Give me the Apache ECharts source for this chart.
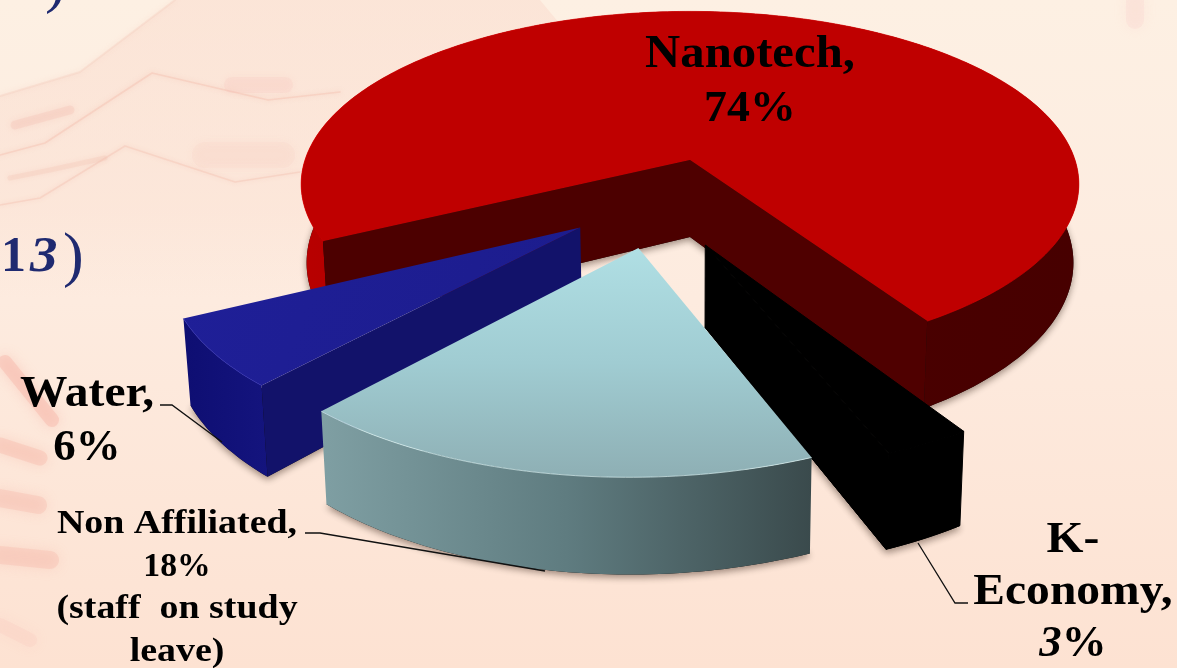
<!DOCTYPE html>
<html><head><meta charset="utf-8">
<style>html,body{margin:0;padding:0;background:#fde8d8}#c{width:1177px;height:668px}</style>
<script src="https://cdn.jsdelivr.net/npm/echarts@6/dist/echarts.min.js"></script>
</head><body><div id="c"></div>
<script>
// ---- data ----
const categories = ['Nanotech', 'K-Economy', 'Non Affiliated', 'Water'];
const seriesValues = [74, 3, 18, 6];
const labelTemplates = ['Nanotech,\n{v}%', 'K-\nEconomy,\n{v}%', 'Non Affiliated,\n{v}%\n(staff  on study\nleave)', 'Water,\n{v}%'];
const drawOrder = [0, 1, 3, 2];

// ---- view (projection of the tilted disc) ----
const view = {cx: 690, cy: 160, R: 385, tilt: 0.44, persp: 0.14, h: 77, shrink: 0.014, start: 153.3};
const explode = [[0, 0], [0.037, 0.469], [-0.125, 0.484], [-0.27, 0.378]];
const grad = (x0, y0, x1, y1, stops) => new echarts.graphic.LinearGradient(x0, y0, x1, y1, stops.map((c, i) => Array.isArray(c) ? {offset: c[0], color: c[1]} : {offset: i / (stops.length - 1), color: c}));
const looks = [
  {top: '#bf0000', faceA: '#4f0000', faceB: '#4c0000', edge: '#d80000',
   wall: grad(0, 0, 1, 0, [[0, '#b80000'], [0.055, '#b40000'], [0.07, '#4f0000'], [1, '#470000']])},
  {top: '#000000', faceA: '#000000', faceB: '#000000', edge: '#000000', wall: '#000000', seam: '#000000'},
  {top: grad(0, 0, 0, 1, ['#b0dfe4', '#a0ccd2', '#8eafb4']), faceA: '#3c4c4e', faceB: '#7f9ea2', edge: '#d9f2f4',
   wall: grad(0, 0, 1, 0, ['#7f9fa3', '#5f7c80', '#3a4a4c'])},
  {top: grad(0, 0, 1, 1, ['#1f1f98', '#1c1c8c']), faceA: '#12125a', faceB: '#12126a', edge: '#2a2ab0',
   wall: grad(0, 0, 1, 0, ['#0e0e72', '#14147e'])}
];

function project(X, Y, down) {
  const s = 1 / (1 - view.persp * Y);
  let x = view.cx + view.R * X * s, y = view.cy + view.R * view.tilt * Y * s;
  if (down) { x = view.cx + (x - view.cx) * (1 - view.shrink); y += view.h * s; }
  return [x, y];
}
const total = seriesValues.reduce((a, b) => a + b, 0);
const angles = [];
seriesValues.reduce((acc, v, i) => { const a = acc + v / total * 360; angles[i] = [acc, a]; return a; }, view.start);

function arcPts(i, down) {
  const [a0, a1] = angles[i], [ex, ey] = explode[i], n = Math.ceil(a1 - a0), pts = [];
  for (let k = 0; k <= n; k++) {
    const t = (a0 + (a1 - a0) * k / n) * Math.PI / 180;
    pts.push(project(Math.cos(t) + ex, Math.sin(t) + ey, down));
  }
  return pts;
}
const shadow = {shadowColor: 'rgba(60,40,30,0.55)', shadowBlur: 7, shadowOffsetY: 3};

function renderItem(params, api) {
  const i = api.value(1), look = looks[i], [a0, a1] = angles[i], [ex, ey] = explode[i];
  const topArc = arcPts(i, false), botArc = arcPts(i, true);
  const apex = project(ex, ey, false), apexB = project(ex, ey, true);
  const children = [];
  const poly = (points, style) => children.push({type: 'polygon', shape: {points}, style: look.seam ? Object.assign({stroke: look.seam, lineWidth: 1}, style) : style});
  poly(botArc.concat([apexB]), Object.assign({fill: '#000', opacity: 0.9}, shadow));
  poly(topArc.concat(botArc.slice().reverse()), {fill: look.wall});
  const ra0 = a0 * Math.PI / 180, ra1 = a1 * Math.PI / 180;
  if (-Math.cos(ra0) > 0) poly([apex, topArc[0], botArc[0], apexB], {fill: look.faceB});
  if (Math.cos(ra1) > 0) poly([apex, topArc[topArc.length - 1], botArc[botArc.length - 1], apexB], {fill: look.faceA});
  poly([apex].concat(topArc), {fill: look.top});
  children.push({type: 'polyline', shape: {points: topArc}, style: {fill: null, stroke: look.edge, lineWidth: 1, opacity: 0.7}});
  return {type: 'group', children};
}

// ---- decorative backdrop ----
const deco = (points, stroke, w, o, blur) => ({type: 'polyline', silent: true, z: 0, shape: {points},
  style: {fill: null, stroke, lineWidth: w, opacity: o, lineJoin: 'round', lineCap: 'round', shadowColor: stroke, shadowBlur: blur || 6}});
const fadeFill = grad(0, 0, 0, 1, [[0, 'rgba(250,218,204,0.5)'], [0.7, 'rgba(250,218,204,0.32)'], [1, 'rgba(250,218,204,0)']]);
const backdrop = [
  {type: 'polygon', silent: true, z: 0, shape: {points: [[0, 96], [80, 72], [175, 0], [540, 0], [640, 120], [640, 300], [0, 300]]}, style: {fill: fadeFill}},
  deco([[0, 155], [45, 143], [152, 73], [268, 100], [340, 92]], '#f5c4b4', 1.5, 0.5, 4),
  deco([[0, 205], [40, 198], [125, 146], [235, 182], [300, 172]], '#f5c4b4', 1.5, 0.45, 4),
  deco([[0, 96], [80, 72], [175, 0]], '#f6d0c0', 2, 0.4, 5),
  deco([[15, 125], [70, 110]], '#f3b8aa', 9, 0.24, 6),
  deco([[232, 85], [285, 85]], '#f3b8aa', 16, 0.12, 6),
  deco([[205, 155], [282, 155]], '#f3b8aa', 26, 0.08, 8),
  deco([[10, 178], [50, 170], [105, 158]], '#f3c0b0', 5, 0.24, 5),
  deco([[5, 362], [52, 420]], '#f6b0a2', 14, 0.38, 12),
  deco([[0, 445], [40, 458]], '#f6b0a2', 15, 0.32, 12),
  deco([[0, 498], [38, 505]], '#f6b0a2', 18, 0.28, 12),
  deco([[0, 555], [50, 560]], '#f6b0a2', 18, 0.28, 12),
  deco([[0, 625], [30, 640]], '#f7c2b5', 14, 0.18, 12),
  deco([[1135, 0], [1135, 20]], '#f9cfc8', 18, 0.22, 12)
];

// ---- texts and leaders ----
const serif = '"Liberation Serif", serif';
// x centre, first baseline, line step, word size, number size, word width factor
const labelLayout = [
  {x: 750, y: 68, lh: 54, size: 46, num: 45, sx: 1.06},
  {x: 1073, y: 553, lh: 52, size: 44, num: 44, sx: 1.08},
  {x: 177, y: 534, lh: 42.5, size: 34, num: 33, sx: 1.115},
  {x: 87, y: 407, lh: 54, size: 44, num: 44, sx: 1.08}
];
function labelLines(i) {
  const L = labelLayout[i];
  return labelTemplates[i].replace('{v}', seriesValues[i]).split('\n').map((line, k) => {
    const isNum = line.indexOf('%') >= 0, size = isNum ? L.num : L.size;
    const text = line.split('3').map(t => t ? '{b|' + t + '}' : '').join('{i|3}');
    return {type: 'text', z: 20, silent: true, x: L.x, y: L.y + k * L.lh + 0.22 * size, scaleX: isNum ? 1.02 : L.sx, style: {
      text, align: 'center', verticalAlign: 'bottom', fill: '#000',
      rich: {b: {font: 'bold ' + size + 'px ' + serif, fill: '#000'}, i: {font: 'italic bold ' + size + 'px ' + serif, fill: '#000'}}}};
  });
}
const leader = pts => ({type: 'polyline', z: 15, silent: true, shape: {points: pts}, style: {fill: null, stroke: '#111', lineWidth: 1.3}});
const headText = (text, x, y, style, size, sx) => ({type: 'text', z: 20, silent: true, x, y, scaleX: sx || 1, style: {text, fill: '#1f2a70', font: style + ' ' + size + 'px ' + serif, verticalAlign: 'top'}});

const option = {
  animation: false,
  backgroundColor: grad(0, 0, 0, 1, [[0, '#fdf0e3'], [0.45, '#fdebdf'], [1, '#fde2d2']]),
  series: [{
    type: 'custom', coordinateSystem: 'none', renderItem, z: 5,
    data: drawOrder.map(i => [seriesValues[i], i])
  }],
  graphic: {elements: backdrop.concat(
    labelLines(0), labelLines(1), labelLines(2), labelLines(3),
    [
    leader([[160, 405], [172, 405], [222, 442]]),
    leader([[305, 533], [320, 533], [545, 571]]),
    leader([[968, 603], [955, 603], [918, 543]]),
    headText(')', 45, -46, '', 62),
    headText('1', 1, 233, 'bold', 50),
    headText('3', 30, 233, 'italic bold', 50, 1.1),
    headText(')', 63, 228, '', 62)
  ])}
};
echarts.init(document.getElementById('c'), null, {renderer: 'canvas'}).setOption(option);
</script></body></html>
